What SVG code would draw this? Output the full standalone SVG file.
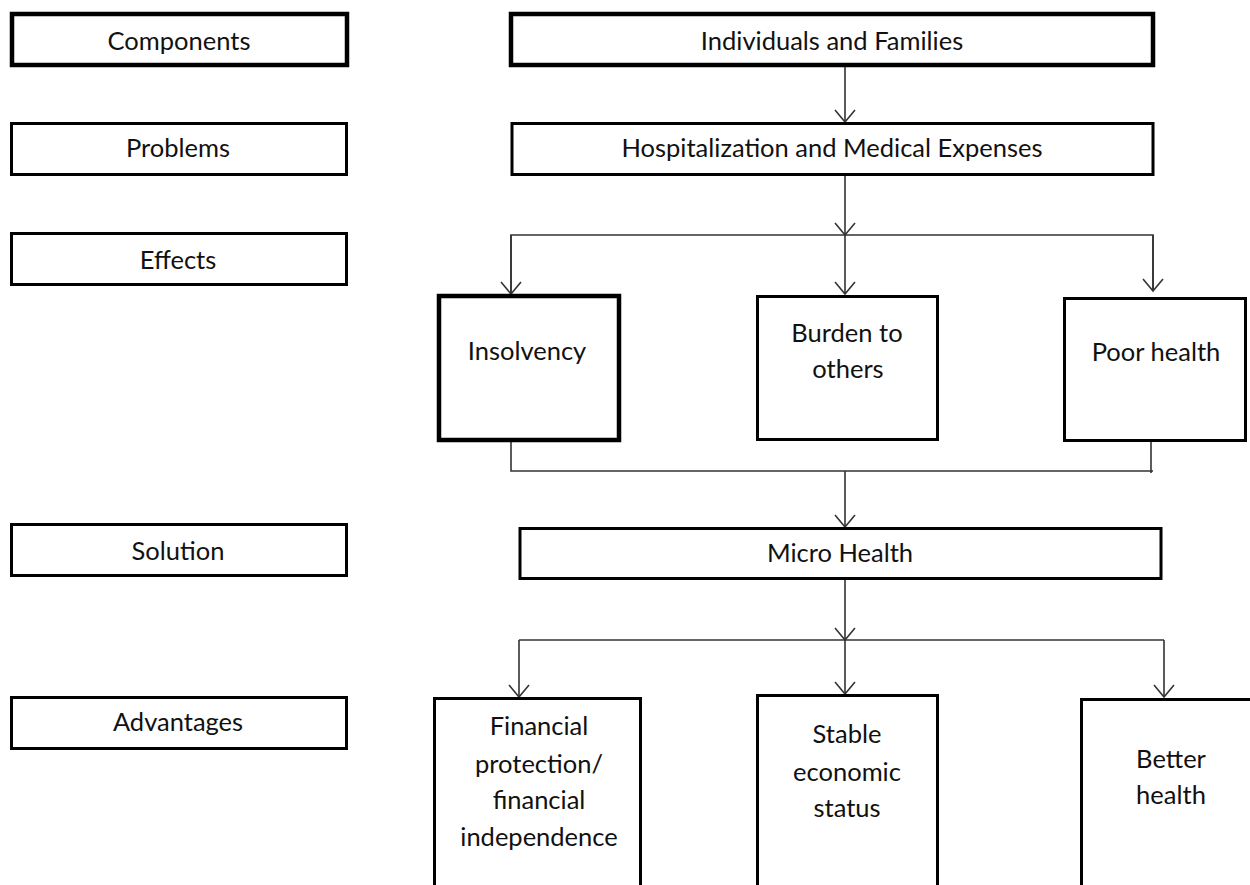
<svg xmlns="http://www.w3.org/2000/svg" width="1250" height="885" viewBox="0 0 1250 885">
<style>
.box{fill:#fff;stroke:#000;stroke-width:3}
.thick{stroke-width:4.5}
.t{font-family:Lato,"Liberation Sans",sans-serif;font-size:25.5px;fill:#111;text-anchor:middle}
.c{fill:none;stroke:#333;stroke-width:1.6}
</style>
<defs>
<marker id="v" markerUnits="userSpaceOnUse" markerWidth="26" markerHeight="26" refX="13" refY="13" orient="auto" viewBox="0 0 26 26">
<path d="M1,3 L13,13 L1,23" fill="none" stroke="#333" stroke-width="1.6"/>
</marker>
</defs>
<rect width="1250" height="885" fill="#fff"/>
<g id="connectors">
<line class="c" x1="845" y1="67" x2="845" y2="122" marker-end="url(#v)"/>
<line class="c" x1="845" y1="176" x2="845" y2="235" marker-end="url(#v)"/>
<polyline class="c" points="511,294 511,235 1153,235 1153,291"/>
<line class="c" x1="511" y1="235" x2="511" y2="294" marker-end="url(#v)"/>
<line class="c" x1="845" y1="235" x2="845" y2="294" marker-end="url(#v)"/>
<line class="c" x1="1153" y1="235" x2="1153" y2="291" marker-end="url(#v)"/>
<polyline class="c" points="511,442 511,471 1153,471"/>
<line class="c" x1="1151" y1="442" x2="1151" y2="473"/>
<line class="c" x1="845" y1="471" x2="845" y2="527" marker-end="url(#v)"/>
<line class="c" x1="845" y1="580" x2="845" y2="640" marker-end="url(#v)"/>
<polyline class="c" points="519,640 1164,640"/>
<line class="c" x1="519" y1="640" x2="519" y2="697" marker-end="url(#v)"/>
<line class="c" x1="845" y1="640" x2="845" y2="694" marker-end="url(#v)"/>
<line class="c" x1="1164" y1="640" x2="1164" y2="697" marker-end="url(#v)"/>
</g>
<g id="components"><rect class="box thick" x="12" y="14" width="335" height="51"/><text class="t" x="179" y="50">Components</text></g>
<g id="problems"><rect class="box" x="11.5" y="123.5" width="335" height="51"/><text class="t" x="178" y="157">Problems</text></g>
<g id="effects"><rect class="box" x="11.5" y="233.5" width="335" height="51"/><text class="t" x="178" y="269">Effects</text></g>
<g id="solution"><rect class="box" x="11.5" y="524.5" width="335" height="51"/><text class="t" x="178" y="560">Solution</text></g>
<g id="advantages"><rect class="box" x="11.5" y="697.5" width="335" height="51"/><text class="t" x="178" y="731">Advantages</text></g>
<g id="individuals"><rect class="box thick" x="511" y="14" width="642" height="51"/><text class="t" x="832" y="50">Individuals and Families</text></g>
<g id="hospitalization"><rect class="box" x="512" y="123.5" width="641" height="51"/><text class="t" x="832" y="157">Hospitalization and Medical Expenses</text></g>
<g id="insolvency"><rect class="box thick" x="439" y="296" width="180" height="144"/><text class="t" x="527" y="360">Insolvency</text></g>
<g id="burden"><rect class="box" x="757.5" y="296.5" width="180" height="143"/><text class="t" x="847" y="342">Burden to</text><text class="t" x="848" y="378">others</text></g>
<g id="poorhealth"><rect class="box" x="1064.5" y="298.5" width="181" height="142"/><text class="t" x="1156" y="361">Poor health</text></g>
<g id="microhealth"><rect class="box" x="520" y="528.5" width="641" height="50"/><text class="t" x="840" y="562">Micro Health</text></g>
<g id="financial"><rect class="box" x="434.5" y="698.5" width="206" height="200"/><text class="t" x="539" y="735">Financial</text><text class="t" x="539" y="773">protection/</text><text class="t" x="539" y="809">financial</text><text class="t" x="539" y="846">independence</text></g>
<g id="stable"><rect class="box" x="757.5" y="695.5" width="180" height="200"/><text class="t" x="847" y="743">Stable</text><text class="t" x="847" y="781">economic</text><text class="t" x="847" y="817">status</text></g>
<g id="betterhealth"><rect class="box" x="1081.5" y="699.5" width="200" height="200"/><text class="t" x="1171" y="768">Better</text><text class="t" x="1171" y="804">health</text></g>
</svg>
